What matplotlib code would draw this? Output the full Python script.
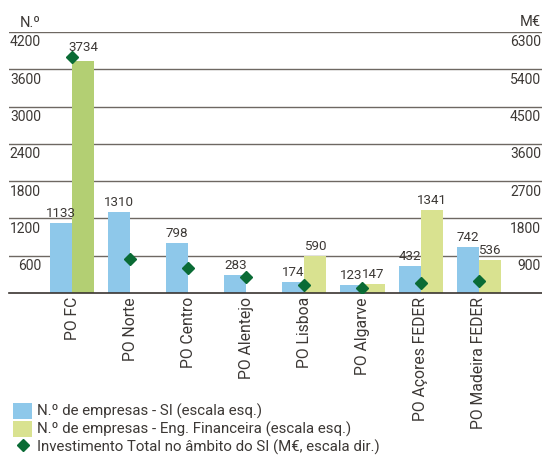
import matplotlib
matplotlib.use('Agg')
import matplotlib.pyplot as plt
import numpy as np
from matplotlib.patches import Patch
from matplotlib.lines import Line2D
from matplotlib.transforms import ScaledTranslation

categories = ["PO FC", "PO Norte", "PO Centro", "PO Alentejo", "PO Lisboa",
              "PO Algarve", "PO Açores FEDER", "PO Madeira FEDER"]
empresas_si = [1133, 1310, 798, 283, 174, 123, 432, 742]
empresas_ef = [3734, None, None, None, 590, 147, 1341, 536]
investimento = [5690, 810, 610, 390, 200, 130, 250, 280]

left_ticks = [600, 1200, 1800, 2400, 3000, 3600, 4200]
right_ticks = [900, 1800, 2700, 3600, 4500, 5400, 6300]

legend_labels = ["N.º de empresas - SI (escala esq.)",
                 "N.º de empresas - Eng. Financeira (escala esq.)",
                 "Investimento Total no âmbito do SI (M€, escala dir.)"]

plt.rcParams['font.family'] = ['Roboto', 'DejaVu Sans']

BLUE = '#8ec8ea'
GREEN = '#d9e290'
GREEN_FC = '#b3cf73'
DIAM = '#0a6b35'
GRID = '#6e6862'
AXIS = '#3a3430'
TXT = '#3c3835'

W, H = 542, 461
fig = plt.figure(figsize=(W / 100, H / 100), dpi=100)
ax = fig.add_axes([9 / W, (H - 293) / H, (542 - 9) / W, (293 - 32) / H])
ax2 = ax.twinx()

x = np.arange(len(categories))
bw = 0.379

ax.bar(x - bw / 2, empresas_si, width=bw, color=BLUE, zorder=2)
ef_x = [xi + bw / 2 for xi, v in zip(x, empresas_ef) if v is not None]
ef_v = [v for v in empresas_ef if v is not None]
ef_c = [GREEN_FC if i == 0 else GREEN for i, v in enumerate(empresas_ef) if v is not None]
ax.bar(ef_x, ef_v, width=bw, color=ef_c, zorder=2)

ax.set_ylim(0, 4200)
ax.set_xlim(-1.085, 8.09)
ax2.set_ylim(0, 6300)
ratio = 6300 / 4200

ax2.plot(x, investimento, linestyle='none', marker='D', markersize=6.5,
         color=DIAM, zorder=5)

# value labels
lbl_kw = dict(textcoords='offset points', xytext=(0, 4.3), ha='center',
              va='baseline', fontsize=9.6, color=TXT, zorder=6)
for xi, v, d in zip(x, empresas_si, investimento):
    ax.annotate(str(v), (xi - bw / 2, v), **lbl_kw)
for xi, v, d in zip(x, empresas_ef, investimento):
    if v is None:
        continue
    y = v
    dl = d / ratio
    if dl > v and dl - v < 200:
        y = dl
    ax.annotate(str(v), (xi + bw / 2, y), **lbl_kw)

# grid & spines
ax.set_yticks(left_ticks)
ax.set_yticklabels([str(t) for t in left_ticks])
ax2.set_yticks(right_ticks)
ax2.set_yticklabels([str(t) for t in right_ticks])
ax.grid(axis='y', color=GRID, linewidth=1.0, zorder=0)
ax.set_axisbelow(True)
for a in (ax, ax2):
    for s in a.spines.values():
        s.set_visible(False)
ax.spines['bottom'].set_visible(True)
ax.spines['bottom'].set_color(AXIS)
ax.spines['bottom'].set_linewidth(1.2)

ax.tick_params(axis='y', length=0, pad=0, labelsize=10, labelcolor=TXT)
ax2.tick_params(axis='y', length=0, pad=0, labelsize=10, labelcolor=TXT)
for lab in ax.get_yticklabels():
    lab.set_transform(lab.get_transform() + ScaledTranslation(32 / 100, -9 / 100, fig.dpi_scale_trans))
for lab in ax2.get_yticklabels():
    lab.set_horizontalalignment('right')
    lab.set_transform(lab.get_transform() + ScaledTranslation(-1 / 100, -9 / 100, fig.dpi_scale_trans))

ax.set_xticks(x)
ax.set_xticklabels(categories, rotation=90, ha='center', va='top', fontsize=11.3, color=TXT)
ax.tick_params(axis='x', length=0, pad=2.9)

fig.text(41 / W, 1 - 23 / H, "N.º", ha='right', va='center', fontsize=10.5, color=TXT)
fig.text(541 / W, 1 - 22 / H, "M€", ha='right', va='center', fontsize=10.5, color=TXT)

handles = [Patch(facecolor=BLUE, edgecolor='none'),
           Patch(facecolor=GREEN, edgecolor='none'),
           Line2D([], [], linestyle='none', marker='D', markersize=6.5, color=DIAM)]
fig.legend(handles, legend_labels, loc='upper left', bbox_to_anchor=(13 / W, 1 - 403 / H),
           frameon=False, fontsize=10.8, borderpad=0, borderaxespad=0,
           handlelength=1.27, handleheight=1.27, handletextpad=0.33,
           labelspacing=0.1, labelcolor=TXT)

fig.savefig('out.png', dpi=100)
